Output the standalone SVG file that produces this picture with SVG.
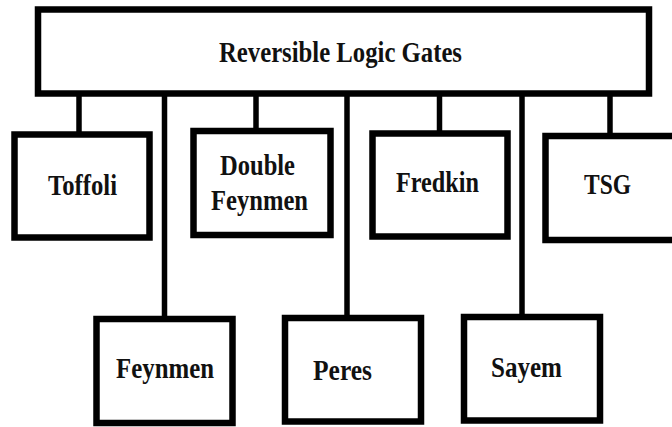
<svg xmlns="http://www.w3.org/2000/svg" width="672" height="427" viewBox="0 0 672 427">
<style>
.box{fill:#fff;stroke:#000;stroke-width:6.5}
.wire{stroke:#000;stroke-width:5.5;fill:none}
.lbl{font-family:"Liberation Serif","Times New Roman",serif;font-weight:bold;font-size:29px;fill:#111;text-anchor:middle}
</style>
<rect width="672" height="427" fill="#fff"/>
<g id="connectors">
<line class="wire" x1="79" y1="95" x2="79" y2="134"/>
<line class="wire" x1="164.5" y1="95" x2="164.5" y2="319"/>
<line class="wire" x1="256" y1="95" x2="256" y2="131"/>
<line class="wire" x1="347" y1="95" x2="347" y2="318"/>
<line class="wire" x1="439.5" y1="95" x2="439.5" y2="133"/>
<line class="wire" x1="522" y1="95" x2="522" y2="317"/>
<line class="wire" x1="610" y1="95" x2="610" y2="136"/>
</g>
<g id="root">
<rect class="box" x="38" y="9.5" width="611" height="84"/>
<text class="lbl" x="340.5" y="62" textLength="243" lengthAdjust="spacingAndGlyphs">Reversible Logic Gates</text>
</g>
<g id="toffoli">
<rect class="box" x="14.5" y="134.5" width="135" height="103"/>
<text class="lbl" x="82.5" y="195" textLength="69" lengthAdjust="spacingAndGlyphs">Toffoli</text>
</g>
<g id="double-feynmen">
<rect class="box" x="193.5" y="131" width="137" height="104"/>
<text class="lbl" x="257.5" y="175" textLength="75" lengthAdjust="spacingAndGlyphs">Double</text>
<text class="lbl" x="259.5" y="210" textLength="97" lengthAdjust="spacingAndGlyphs">Feynmen</text>
</g>
<g id="fredkin">
<rect class="box" x="372.5" y="133.5" width="135" height="103"/>
<text class="lbl" x="437.5" y="192" textLength="83" lengthAdjust="spacingAndGlyphs">Fredkin</text>
</g>
<g id="tsg">
<rect class="box" x="545.5" y="136" width="140" height="104"/>
<text class="lbl" x="607.5" y="194" textLength="47" lengthAdjust="spacingAndGlyphs">TSG</text>
</g>
<g id="feynmen">
<rect class="box" x="96.5" y="319" width="136" height="104"/>
<text class="lbl" x="165" y="378" textLength="98" lengthAdjust="spacingAndGlyphs">Feynmen</text>
</g>
<g id="peres">
<rect class="box" x="285" y="318" width="136" height="103.5"/>
<text class="lbl" x="342.5" y="380" textLength="59" lengthAdjust="spacingAndGlyphs">Peres</text>
</g>
<g id="sayem">
<rect class="box" x="464" y="317" width="136" height="103.5"/>
<text class="lbl" x="526.5" y="377" textLength="71" lengthAdjust="spacingAndGlyphs">Sayem</text>
</g>
</svg>
